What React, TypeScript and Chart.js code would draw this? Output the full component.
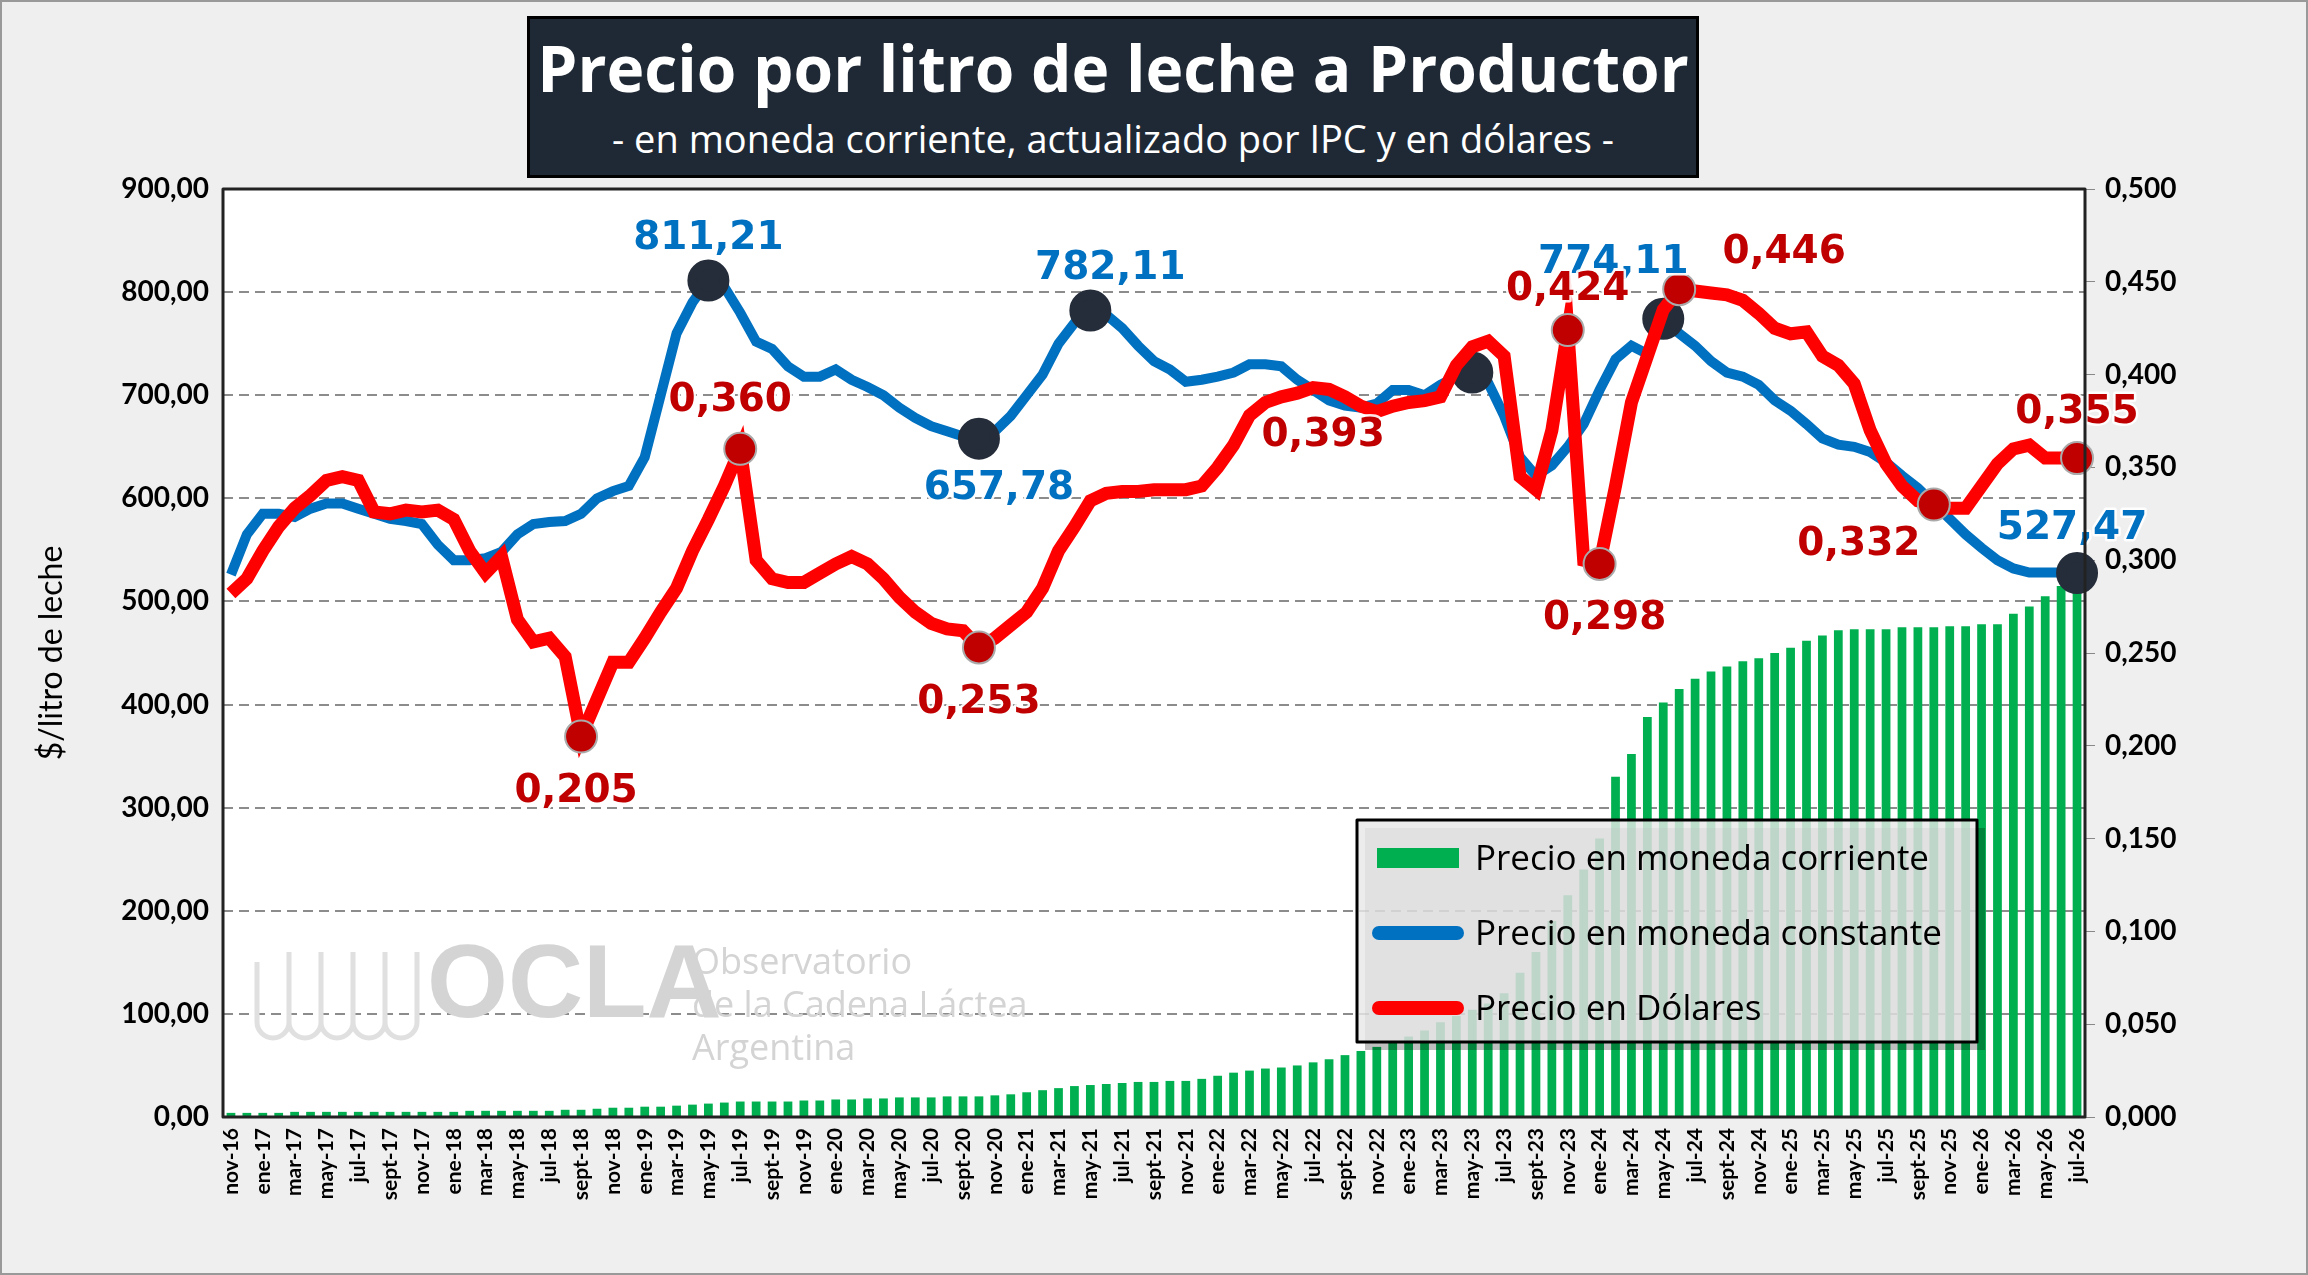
import React, { useEffect, useRef } from "react";
import { Chart, registerables } from "chart.js";
Chart.register(...registerables);

const MONTHS = ["ene","feb","mar","abr","may","jun","jul","ago","sept","oct","nov","dic"];
const labels: string[] = [];
for (let i = 0; i < 117; i++) {
  const m = (10 + i) % 12;
  const y = 16 + Math.floor((10 + i) / 12);
  labels.push(MONTHS[m] + "-" + y);
}

const corriente = [4,4,4,4,5,5,5,5,5,5,5,5,5,5,5,6,6,6,6,6,6,7,7,8,9,9,10,10,11,12,13,14,15,15,15,15,16,16,17,17,18,18,19,19,19,20,20,20,21,22,24,26,28,30,31,32,33,34,34,35,35,37,40,43,45,47,48,50,53,56,60,64,68,72,78,84,92,98,104,110,120,140,160,190,215,240,270,330,352,388,402,415,425,432,437,442,445,450,455,462,467,472,473,473,473,475,475,475,476,476,478,478,488,495,505,515,525];

const constante = [526,565,585,585,582,590,595,595,590,585,580,578,575,555,540,540,542,548,565,575,577,578,585,600,607,612,640,700,760,790,811.21,805,780,752,745,728,718,718,725,715,708,700,688,678,670,665,660,657.78,665,680,700,720,750,770,782.11,778,765,748,733,725,713,715,718,722,730,730,728,715,705,695,690,688,692,705,705,700,710,718,722,712,680,640,622,632,650,672,705,735,748,740,774.11,760,748,733,722,718,710,695,685,672,658,652,650,645,635,622,610,595,580,565,552,540,532,528,528,528,527.47];

const dolares = [0.282,0.29,0.305,0.318,0.328,0.335,0.343,0.345,0.343,0.326,0.325,0.327,0.326,0.327,0.322,0.305,0.293,0.302,0.268,0.256,0.258,0.248,0.205,0.225,0.245,0.245,0.258,0.272,0.285,0.305,0.322,0.34,0.36,0.3,0.29,0.288,0.288,0.293,0.298,0.302,0.298,0.29,0.28,0.272,0.266,0.263,0.262,0.253,0.258,0.265,0.272,0.285,0.305,0.318,0.332,0.336,0.337,0.337,0.338,0.338,0.338,0.34,0.35,0.362,0.378,0.385,0.388,0.39,0.393,0.392,0.388,0.383,0.38,0.383,0.385,0.386,0.388,0.405,0.415,0.418,0.41,0.345,0.338,0.37,0.424,0.30,0.298,0.34,0.385,0.41,0.435,0.446,0.445,0.444,0.443,0.44,0.433,0.425,0.422,0.423,0.41,0.405,0.395,0.37,0.352,0.34,0.332,0.33,0.328,0.328,0.34,0.352,0.36,0.362,0.355,0.355,0.355];

const blueMarks = [30, 47, 54, 78, 90, 116];
const blueLabels: Record<number, [string, number, number]> = {
  30: ["811,21", 0, -42], 47: ["657,78", 20, 50], 54: ["782,11", 20, -42], 90: ["774,11", -50, -56], 116: ["527,47", -5, -44],
};
const redMarks = [22, 32, 47, 84, 86, 91, 107, 116];
const redLabels: Record<number, [string, number, number]> = {
  22: ["0,205", -5, 55], 32: ["0,360", -10, -48], 47: ["0,253", 0, 55], 68: ["0,393", 10, 48], 84: ["0,424", 0, -40],
  86: ["0,298", 5, 55], 91: ["0,446", 105, -36], 107: ["0,332", -75, 40], 116: ["0,355", 0, -45],
};

const fmt2 = (v: number) => v.toFixed(2).replace(".", ",");
const fmt3 = (v: number) => v.toFixed(3).replace(".", ",");

export default function App() {
  const ref = useRef<HTMLCanvasElement>(null);
  useEffect(() => {
    const radiusB = constante.map((_, i) => (blueMarks.includes(i) ? 16 : 0));
    const radiusR = dolares.map((_, i) => (redMarks.includes(i) ? 16 : 0));
    const labelsPlugin = {
      id: "lbls",
      beforeDraw(chart: any) {
        const { ctx, chartArea } = chart;
        ctx.save();
        ctx.fillStyle = "#fff";
        ctx.fillRect(chartArea.left, chartArea.top, chartArea.right - chartArea.left, chartArea.bottom - chartArea.top);
        ctx.restore();
      },
      beforeDatasetsDraw(chart: any) {
        const { ctx } = chart;
        ctx.save();
        ctx.strokeStyle = "#e0e0e0";
        ctx.lineWidth = 5;
        const bx = 255, by = 940;
        ctx.beginPath();
        ctx.moveTo(bx, by + 20);
        for (let k = 0; k < 5; k++) {
          const x0 = bx + k * 32;
          ctx.lineTo(x0, by + 80);
          ctx.arc(x0 + 16, by + 80, 16, Math.PI, 0, true);
          ctx.lineTo(x0 + 32, by + 10);
        }
        ctx.stroke();
        ctx.fillStyle = "#d4d4d4";
        ctx.font = "bold 104px 'Liberation Sans'";
        ctx.textBaseline = "alphabetic";
        ctx.fillText("OCLA", 425, 1015);
        ctx.font = "36px 'Open Sans'";
        ctx.fillText("Observatorio", 690, 972);
        ctx.fillText("de la Cadena Láctea", 690, 1015);
        ctx.fillText("Argentina", 690, 1058);
        ctx.restore();
      },
      afterDatasetsDraw(chart: any) {
        const { ctx, chartArea } = chart;
        ctx.save();
        const mb = chart.getDatasetMeta(0).data;
        const mr = chart.getDatasetMeta(1).data;
        ctx.font = "bold 39px 'DejaVu Sans'";
        ctx.textAlign = "center";
        ctx.textBaseline = "middle";
        ctx.lineJoin = "round";
        const draw = (t: string, x: number, y: number, c: string) => {
          ctx.strokeStyle = "rgba(255,255,255,0.9)";
          ctx.lineWidth = 5;
          ctx.strokeText(t, x, y);
          ctx.fillStyle = c;
          ctx.fillText(t, x, y);
        };
        Object.entries(blueLabels).forEach(([k, v]) => {
          const p = mb[+k];
          draw(v[0], p.x + v[1], p.y + v[2], "#0070c0");
        });
        Object.entries(redLabels).forEach(([k, v]) => {
          const p = mr[+k];
          draw(v[0], p.x + v[1], p.y + v[2], "#c00000");
        });
        const lx = 1355, ly = 818, lw = 620, lh = 222;
        ctx.fillStyle = "rgba(0,0,0,0.25)";
        ctx.fillRect(lx + 8, ly + 8, lw, lh);
        ctx.fillStyle = "rgba(232,232,232,0.82)";
        ctx.fillRect(lx, ly, lw, lh);
        ctx.strokeStyle = "#000";
        ctx.lineWidth = 3;
        ctx.strokeRect(lx, ly, lw, lh);
        const items: [string, string, string][] = [
          ["Precio en moneda corriente", "#00b050", "bar"],
          ["Precio en moneda constante", "#0070c0", "line"],
          ["Precio en Dólares", "#ff0000", "line"],
        ];
        ctx.textAlign = "left";
        ctx.font = "35px 'Open Sans'";
        items.forEach((it, i) => {
          const cy = ly + 38 + i * 75;
          if (it[2] === "bar") {
            ctx.fillStyle = it[1];
            ctx.fillRect(lx + 20, cy - 10, 82, 20);
          } else {
            ctx.strokeStyle = it[1];
            ctx.lineWidth = 14;
            ctx.lineCap = "round";
            ctx.beginPath();
            ctx.moveTo(lx + 22, cy);
            ctx.lineTo(lx + 100, cy);
            ctx.stroke();
          }
          ctx.fillStyle = "#000";
          ctx.fillText(it[0], lx + 118, cy + 2);
        });
        ctx.strokeStyle = "#222";
        ctx.lineWidth = 3;
        ctx.strokeRect(chartArea.left, chartArea.top, chartArea.right - chartArea.left, chartArea.bottom - chartArea.top);
        ctx.restore();
      },
    };
    const chart = new Chart(ref.current!, {
      type: "bar",
      data: {
        labels,
        datasets: [
          { type: "line", label: "Precio en moneda constante", data: constante, borderColor: "#0070c0", backgroundColor: "#252d3a", borderWidth: 10, pointRadius: radiusB, pointBackgroundColor: "#252d3a", pointBorderColor: "#252d3a", yAxisID: "y", tension: 0, order: 2 } as any,
          { type: "line", label: "Precio en Dólares", data: dolares, borderColor: "#ff0000", borderWidth: 13, pointRadius: radiusR, pointBackgroundColor: "#c00000", pointBorderColor: "#aaaaaa", pointBorderWidth: 2, yAxisID: "y1", tension: 0, order: 1 } as any,
          { type: "bar", label: "Precio en moneda corriente", data: corriente, backgroundColor: "#00b050", yAxisID: "y", barPercentage: 0.55, categoryPercentage: 1, order: 3 } as any,
        ],
      },
      options: {
        animation: false,
        responsive: false,
        layout: { padding: { left: 30, right: 10, top: 187, bottom: 10 } },
        plugins: { legend: { display: false }, tooltip: { enabled: false } },
        scales: {
          x: {
            offset: true,
            grid: { display: false },
            border: { display: false },
            ticks: {
              autoSkip: false, maxRotation: 90, minRotation: 90, color: "#000",
              font: { family: "Lato", size: 21, weight: "bold" },
              callback: (_v: any, i: number) => (i % 2 === 0 ? labels[i] : ""),
            },
            afterFit: (s: any) => { s.height = 146; },
          },
          y: {
            position: "left", min: 0, max: 900,
            ticks: { stepSize: 100, color: "#000", font: { family: "Lato", size: 28, weight: "bold" }, callback: (v: any) => fmt2(+v), padding: 14 },
            grid: { color: "#8c8c8c", lineWidth: 2, drawTicks: false },
            border: { dash: [10, 6], display: false },
            title: { display: true, text: "$/litro de leche", color: "#000", font: { family: "Lato", size: 32 }, padding: 0 },
            afterFit: (s: any) => { s.width = 191; },
          },
          y1: {
            position: "right", min: 0, max: 0.5,
            ticks: { stepSize: 0.05, color: "#000", font: { family: "Lato", size: 28, weight: "bold" }, callback: (v: any) => fmt3(+v), padding: 10 },
            grid: { drawOnChartArea: false, color: "#888", tickLength: 10 },
            border: { display: false },
            afterFit: (s: any) => { s.width = 211; },
          },
        },
      } as any,
      plugins: [labelsPlugin],
    });
    return () => chart.destroy();
  }, []);
  return (
    <div style={{ position: "fixed", left: 0, top: 0, width: 2308, height: 1275, background: "#efefef", boxSizing: "border-box", border: "2px solid #999" }}>
      <canvas ref={ref} width={2304} height={1271} style={{ position: "absolute", left: 0, top: 0 }} />
      <div style={{ position: "absolute", left: 525, top: 14, width: 1172, height: 162, background: "#1f2935", border: "3px solid #000", boxSizing: "border-box", color: "#fff", textAlign: "center", fontFamily: "'Open Sans'" }}>
        <div style={{ fontWeight: "bold", fontSize: 64, lineHeight: "94px", marginTop: 2 }}>Precio por litro de leche a Productor</div>
        <div style={{ fontSize: 38, lineHeight: "46px" }}>- en moneda corriente, actualizado por IPC y en dólares -</div>
      </div>
    </div>
  );
}
